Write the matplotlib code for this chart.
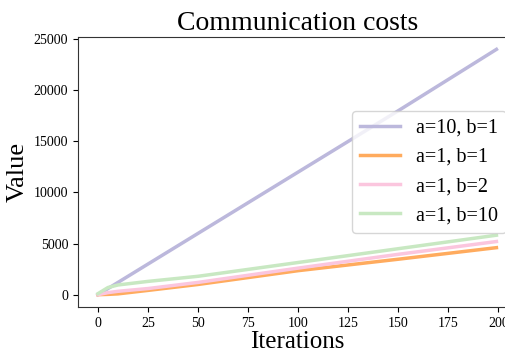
import matplotlib
matplotlib.use("Agg")
import matplotlib.pyplot as plt

plt.rcParams['font.family'] = ['Liberation Serif', 'DejaVu Serif']

iterations = [0, 5, 10, 25, 50, 100, 150, 199]
cost_a10_b1 = [0, 600, 1200, 3000, 6000, 12000, 18000, 24000]
cost_a1_b1 = [0, 30, 80, 420, 1000, 2350, 3470, 4600]
cost_a1_b2 = [0, 200, 330, 600, 1200, 2600, 3950, 5200]
cost_a1_b10 = [100, 700, 950, 1300, 1800, 3150, 4500, 5820]

series_labels = ['a=10, b=1', 'a=1, b=1', 'a=1, b=2', 'a=1, b=10']
series_colors = ['#bcb8dc', '#ffab5e', '#fbc6de', '#c8e8c2']

fig = plt.figure(figsize=(5.05, 3.5), dpi=100)
ax = fig.add_axes([0.1545, 0.123, 0.868, 0.771])

for ys, lab, col in zip([cost_a10_b1, cost_a1_b1, cost_a1_b2, cost_a1_b10],
                        series_labels, series_colors):
    ax.plot(iterations, ys, color=col, lw=2.5, label=lab)

ax.set_xticks([0, 25, 50, 75, 100, 125, 150, 175, 200])
ax.set_yticks([0, 5000, 10000, 15000, 20000, 25000])
ax.tick_params(labelsize=10)
ax.set_title('Communication costs', fontsize=20, pad=5)
ax.set_xlabel('Iterations', fontsize=18, labelpad=1)
ax.set_ylabel('Value', fontsize=19)
ax.legend(loc='center right', fontsize=14.5, handlelength=2.0)
for s in ax.spines.values():
    s.set_color('#333333')

fig.savefig('out.png', dpi=100)
